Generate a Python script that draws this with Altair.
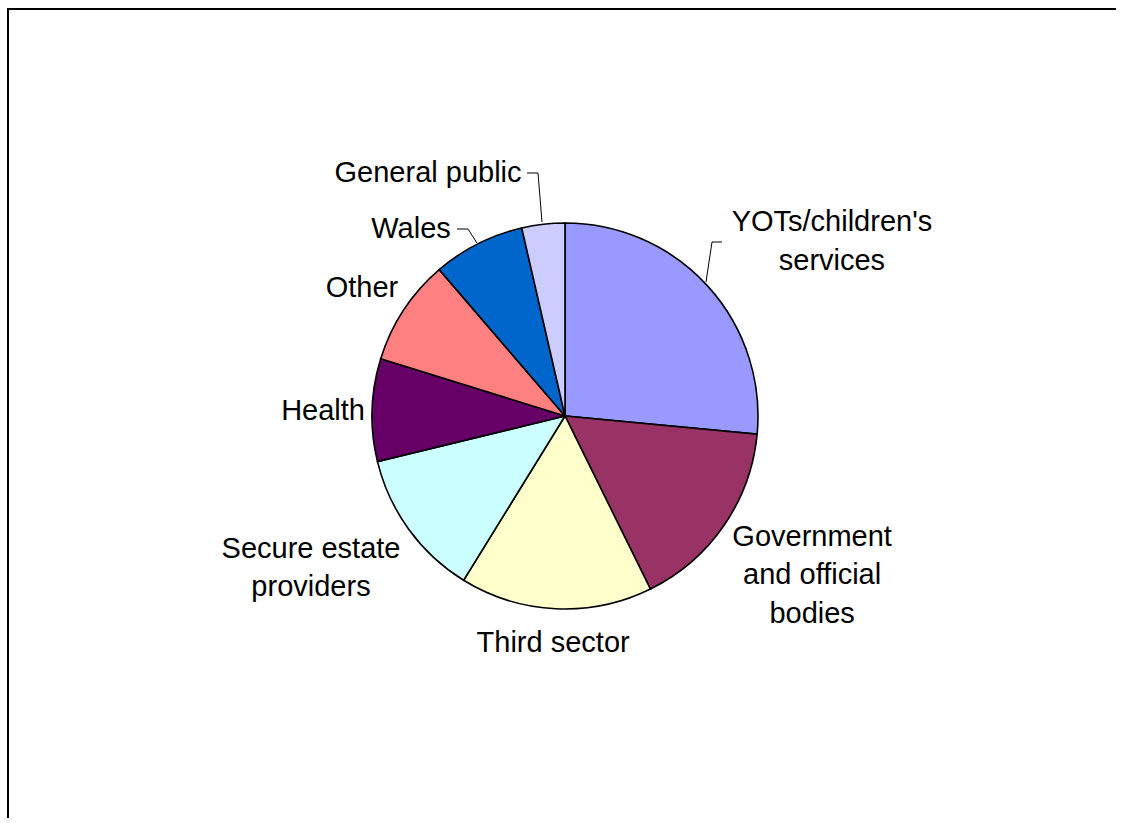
import math
import altair as alt
import pandas as pd

# ---- data ----
categories = ["YOTs/children's services", "Government and official bodies", "Third sector",
              "Secure estate providers", "Health", "Other", "Wales", "General public"]
values = [26.5, 16.2, 16.1, 12.4, 8.6, 8.9, 7.7, 3.6]
colors = ["#9999FF", "#993366", "#FFFFCC", "#CCFFFF", "#660066", "#FF8080", "#0066CC", "#CCCCFF"]
label_texts = ["YOTs/children's\nservices", "Government\nand official\nbodies", "Third sector",
               "Secure estate\nproviders", "Health", "Other", "Wales", "General public"]

# ---- layout (label block centres, polar: degrees clockwise from top, pixels from centre) ----
label_angle = [56.8, 122.8, 183.0, 239.1, 271.2, 302.2, 320.5, 330.6]
label_radius = [319, 294, 227, 296, 242, 240, 242, 279]
# leader lines as offsets from the pie centre
leaders = {
    "YOTs": [(157, -174), (147, -174), (141, -134)],
    "Wales": [(-108, -187), (-97, -187), (-88, -173)],
    "Public": [(-38, -243), (-27, -243), (-23, -194)],
}
CX, CY, R = 565, 416, 193
LINE_H = 38.5

# Vega anchors a multi-line text block at its first line: shift anchor up by half the extra lines
lang, lrad = [], []
for a, r, t in zip(label_angle, label_radius, label_texts):
    n = t.count("\n") + 1
    dx = r * math.sin(math.radians(a))
    dy = -r * math.cos(math.radians(a)) - (n - 1) / 2 * LINE_H
    lrad.append(math.hypot(dx, dy))
    lang.append(math.atan2(dx, -dy) % (2 * math.pi))

df = pd.DataFrame({
    "category": categories,
    "value": values,
    "idx": list(range(len(categories))),
    "label": label_texts,
    "lang": lang,
    "lrad": lrad,
})

rows = []
for g, pts in leaders.items():
    for k, (dx, dy) in enumerate(pts):
        rows.append({"grp": g, "k": k, "px": CX + dx, "py": CY + dy})
lead_df = pd.DataFrame(rows)

pie = alt.Chart(df).mark_arc(
    x=CX, y=CY, outerRadius=R, stroke="black", strokeWidth=1.6
).encode(
    theta=alt.Theta("value:Q", stack=True),
    color=alt.Color("category:N", scale=alt.Scale(domain=categories, range=colors), legend=None),
    order=alt.Order("idx:Q"),
)

labels = alt.Chart(df).mark_text(
    x=CX, y=CY, font="Liberation Sans", fontSize=29, lineBreak="\n", lineHeight=LINE_H,
    align="center", baseline="middle", color="black"
).encode(
    theta=alt.Theta("lang:Q", scale=None),
    radius=alt.Radius("lrad:Q", scale=None),
    text="label:N",
)

lines = alt.Chart(lead_df).mark_line(color="black", strokeWidth=1).encode(
    x=alt.X("px:Q", scale=None, axis=None),
    y=alt.Y("py:Q", scale=None, axis=None),
    detail="grp:N",
    order="k:Q",
)

W, H = 1116, 818
one = pd.DataFrame({"a": [0]})
frame_top = alt.Chart(one).mark_rule(color="black", strokeWidth=2).encode(
    x=alt.value(7), x2=alt.value(W + 10), y=alt.value(9)
)
frame_left = alt.Chart(one).mark_rule(color="black", strokeWidth=2).encode(
    x=alt.value(8), y=alt.value(8), y2=alt.value(H + 10)
)

chart = alt.layer(pie, lines, labels, frame_top, frame_left).properties(
    width=W, height=H, padding=0, background="white",
    autosize=alt.AutoSizeParams(type="none"),
).configure_view(stroke=None)

chart.save("out.html", embed_options={"renderer": "svg", "actions": False})
